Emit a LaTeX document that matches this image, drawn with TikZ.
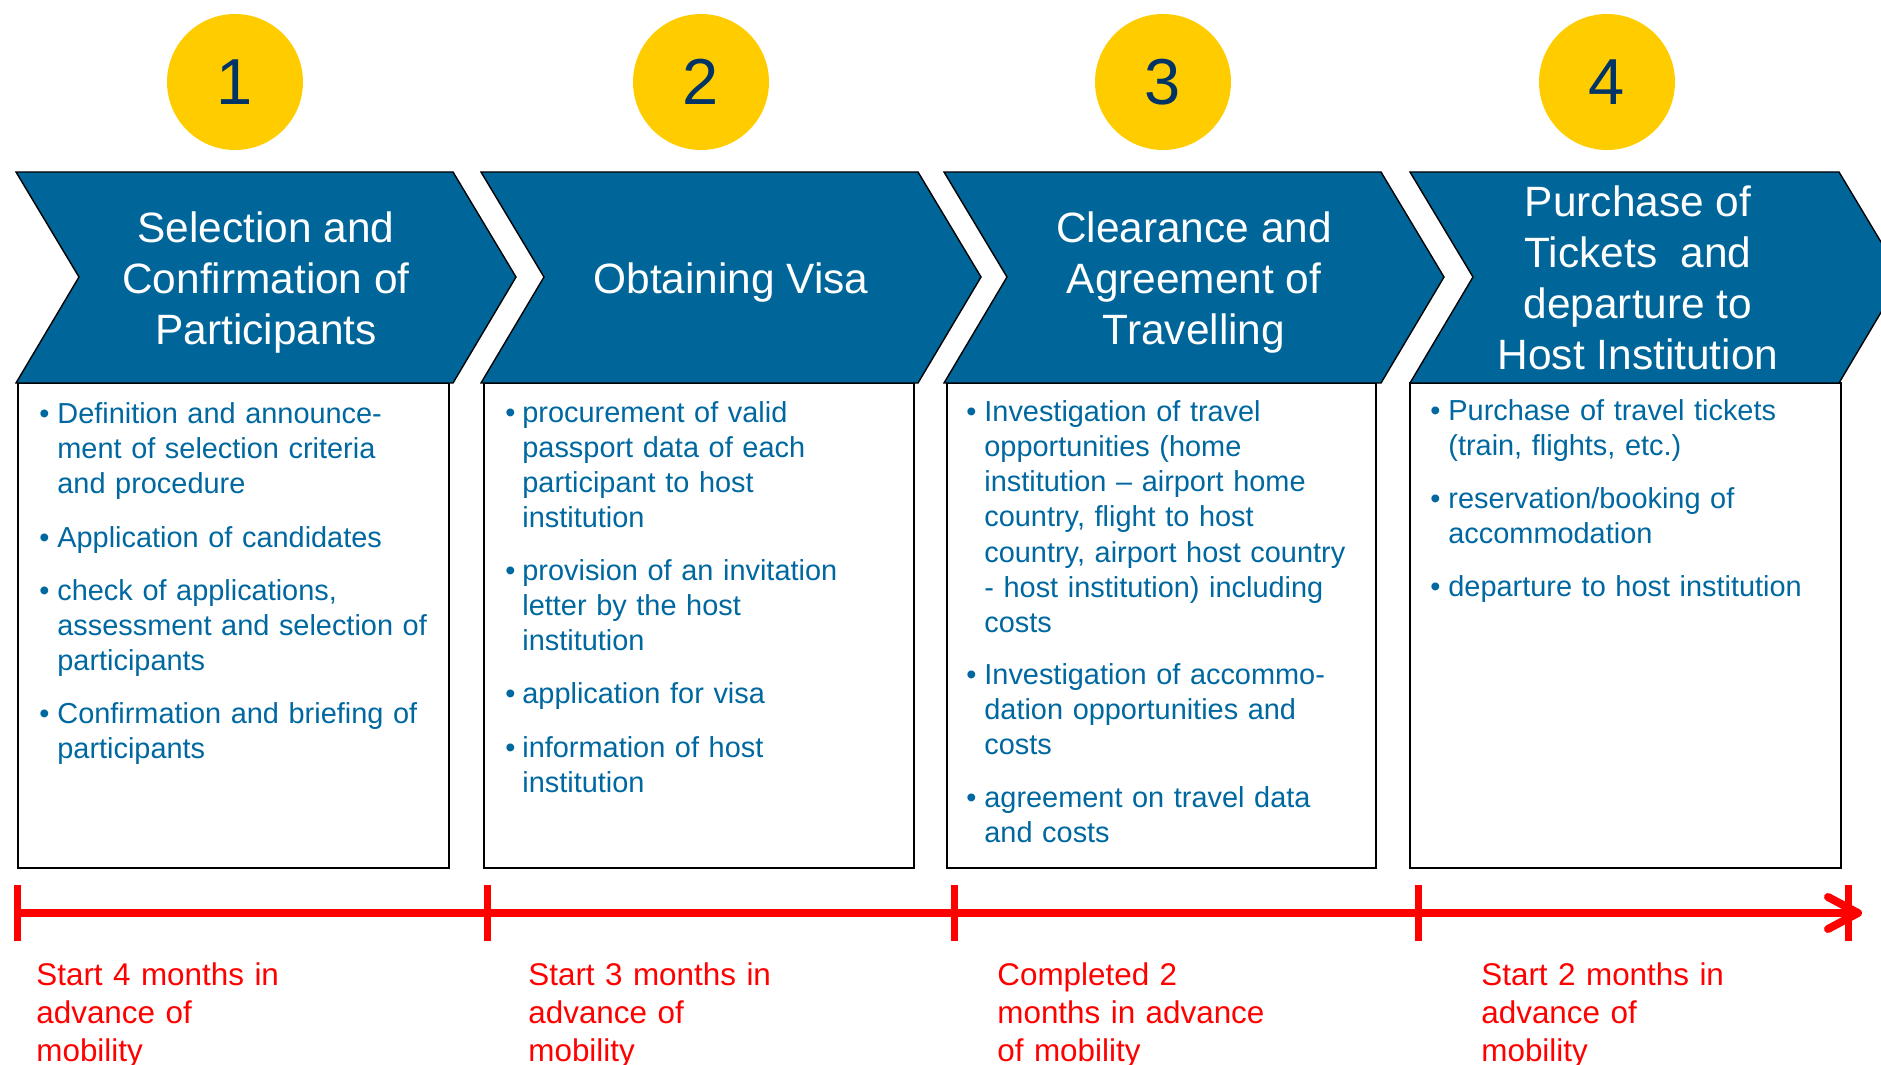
\documentclass[tikz,border=0pt]{standalone}
\usepackage{fontspec}
\setmainfont{Liberation Sans}
\definecolor{chevblue}{RGB}{0,102,153}
\definecolor{txtblue}{RGB}{0,104,160}
\definecolor{navy}{RGB}{0,51,102}
\definecolor{gold}{RGB}{255,204,0}
\definecolor{tlred}{RGB}{255,0,0}
\begin{document}
\begin{tikzpicture}[x=0.5pt,y=-0.5pt,
  chev/.style={fill=chevblue, draw=black, line width=0.7pt, line join=miter},
  infobox/.style={draw=black, line width=1pt, fill=white},
  numcirc/.style={circle, fill=gold, minimum size=68pt, inner sep=0pt, font=\fontsize{32.5}{39}\selectfont, text=navy},
  headtxt/.style={text=white, align=center, font=\fontsize{21.2}{25.5}\selectfont, inner sep=0pt},
  bodytxt/.style={text=txtblue, anchor=base west, text width=200pt, align=left, inner sep=0pt, font=\fontsize{14.45}{17.65}\selectfont},
  bul/.style={text=txtblue, anchor=base west, inner sep=0pt, font=\fontsize{14.45}{17.65}\selectfont},
  tl/.style={draw=tlred, line width=4pt},
  tlmark/.style={draw=tlred, line width=3.5pt},
  redtxt/.style={text=tlred, anchor=base west, text width=200pt, align=left, inner sep=0pt, font=\fontsize{15.7}{19.2}\selectfont},
]
\useasboundingbox (0,0) rectangle (1881,1065);
\clip (0,0) rectangle (1881,1065);

% circles
\node[numcirc] (c1) at (235,82) {1};
\node[numcirc] (c2) at (701,82) {2};
\node[numcirc] (c3) at (1163,82) {3};
\node[numcirc] (c4) at (1607,82) {4};

% boxes
\draw[infobox] (18,383) rectangle (449,868);
\draw[infobox] (484,383) rectangle (914,868);
\draw[infobox] (947,383) rectangle (1376,868);
\draw[infobox] (1410,383) rectangle (1841,868);

% chevrons
\draw[chev] (16,172) -- (453,172) -- (516,277) -- (453,383) -- (16,383) -- (79,277) -- cycle;
\draw[chev] (481,172) -- (918,172) -- (981,277) -- (918,383) -- (481,383) -- (544,277) -- cycle;
\draw[chev] (944,172) -- (1381,172) -- (1444,277) -- (1381,383) -- (944,383) -- (1007,277) -- cycle;
\draw[chev] (1410,172) -- (1839,172) -- (1902,277) -- (1839,383) -- (1410,383) -- (1473,277) -- cycle;

\node[headtxt] (h1) at (266,283) {Selection and\\Confirmation of\\Participants};
\node[headtxt] (h2) at (731,283) {Obtaining Visa};
\node[headtxt] (h3) at (1194,283) {Clearance and\\Agreement of\\Travelling};
\node[headtxt] (h4) at (1638,278) {Purchase of\\Tickets\ \ and\\departure to\\Host Institution};

% box 1
\node[bul] (b1a) at (39,423) {•};
\node[bodytxt] (t1a) at (57,423) {Definition and announce-\\ment of selection criteria\\and procedure};
\node[bul] (b1b) at (39,547) {•};
\node[bodytxt] (t1b) at (57,547) {Application of candidates};
\node[bul] (b1c) at (39,600) {•};
\node[bodytxt] (t1c) at (57,600) {check of applications,\\assessment and selection of\\participants};
\node[bul] (b1d) at (39,723) {•};
\node[bodytxt] (t1d) at (57,723) {Confirmation and briefing of\\participants};

% box 2
\node[bul] (b2a) at (505,422) {•};
\node[bodytxt] (t2a) at (522,422) {procurement of valid\\passport data of each\\participant to host\\institution};
\node[bul] (b2b) at (505,580) {•};
\node[bodytxt] (t2b) at (522,580) {provision of an invitation\\letter by the host\\institution};
\node[bul] (b2c) at (505,703) {•};
\node[bodytxt] (t2c) at (522,703) {application for visa};
\node[bul] (b2d) at (505,757) {•};
\node[bodytxt] (t2d) at (522,757) {information of host\\institution};

% box 3
\node[bul] (b3a) at (966,421) {•};
\node[bodytxt] (t3a) at (984,421) {Investigation of travel\\opportunities (home\\institution – airport home\\country, flight to host\\country, airport host country\\- host institution) including\\costs};
\node[bul] (b3b) at (966,684) {•};
\node[bodytxt] (t3b) at (984,684) {Investigation of accommo-\\dation opportunities and\\costs};
\node[bul] (b3c) at (966,807) {•};
\node[bodytxt] (t3c) at (984,807) {agreement on travel data\\and costs};

% box 4
\node[bul] (b4a) at (1430,420) {•};
\node[bodytxt] (t4a) at (1448,420) {Purchase of travel tickets\\(train, flights, etc.)};
\node[bul] (b4b) at (1430,508) {•};
\node[bodytxt] (t4b) at (1448,508) {reservation/booking of\\accommodation};
\node[bul] (b4c) at (1430,596) {•};
\node[bodytxt] (t4c) at (1448,596) {departure to host institution};

% timeline
\coordinate (t0) at (17,913);
\coordinate (t1) at (487,913);
\coordinate (t2) at (954,913);
\coordinate (t3) at (1418,913);
\coordinate (t4) at (1848,913);
\coordinate (tend) at (1858,913);
\draw[tl] (t0) -- (tend);
\foreach \p in {t0,t1,t2,t3,t4} {\draw[tlmark] (\p) ++(0,-28) -- ++(0,56);}
\draw[tl, line cap=round, line join=round] (tend) ++(-30,-16) -- (tend) -- ++(-30,16);

\node[redtxt] (r1) at (36,985) {Start 4 months in\\advance of\\mobility};
\node[redtxt] (r2) at (528,985) {Start 3 months in\\advance of\\mobility};
\node[redtxt] (r3) at (997,985) {Completed 2\\months in advance\\of mobility};
\node[redtxt] (r4) at (1481,985) {Start 2 months in\\advance of\\mobility};
\end{tikzpicture}
\end{document}
